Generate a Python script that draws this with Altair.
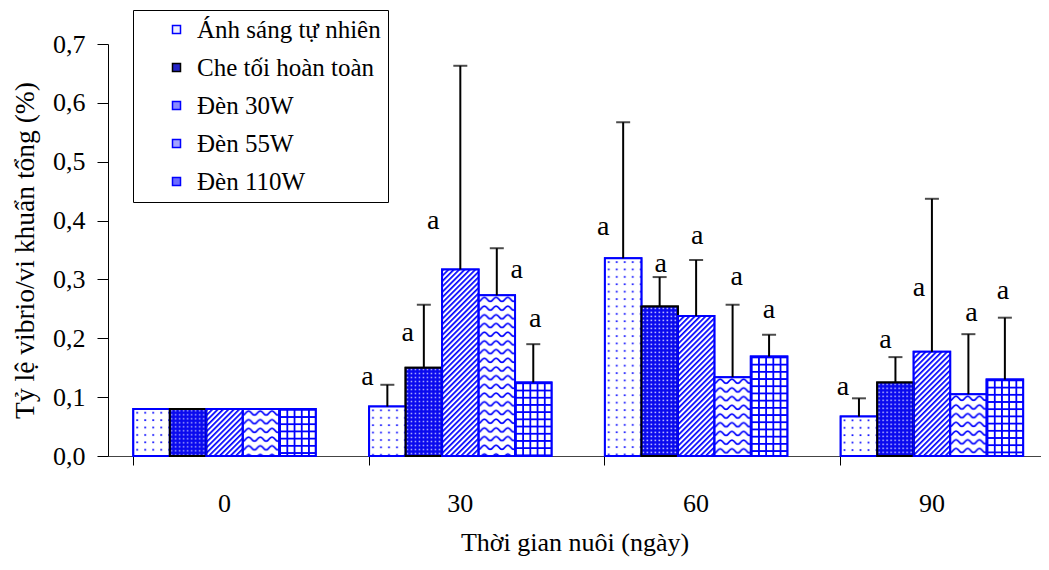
import base64
import altair as alt
import pandas as pd

# ---------------- data ----------------
groups = ["0", "30", "60", "90"]
series = ["Ánh sáng tự nhiên", "Che tối hoàn toàn", "Đèn 30W", "Đèn 55W", "Đèn 110W"]

# mean ratio (%) by culture day 0, 30, 60, 90
anh_sang = [0.080, 0.084, 0.336, 0.067]
che_toi = [0.080, 0.150, 0.254, 0.125]
den_30w = [0.080, 0.317, 0.238, 0.177]
den_55w = [0.080, 0.273, 0.134, 0.105]
den_110w = [0.080, 0.125, 0.169, 0.130]

# upper error bars (SD); none on day 0
sd_anh_sang = [None, 0.037, 0.231, 0.031]
sd_che_toi = [None, 0.107, 0.050, 0.043]
sd_30w = [None, 0.346, 0.095, 0.260]
sd_55w = [None, 0.080, 0.123, 0.102]
sd_110w = [None, 0.065, 0.037, 0.105]

# significance letters: text and height (in axis units)
letters = [None, "a", "a", "a"]
lab_anh_sang = [None, 0.121, 0.375, 0.104]
lab_che_toi = [None, 0.196, 0.313, 0.183]
lab_30w = [None, 0.386, 0.361, 0.272]
lab_55w = [None, 0.302, 0.291, 0.230]
lab_110w = [None, 0.219, 0.234, 0.266]

y_ticks = [0.0, 0.1, 0.2, 0.3, 0.4, 0.5, 0.6, 0.7]

# ---------------- styles ----------------
BLUE = "#0000ff"
FONT = "Liberation Serif"
Y_TITLE = "Tỷ lệ vibrio/vi khuẩn tổng (%)"
X_TITLE = "Thời gian nuôi (ngày)"

# letter nudges (px), left/right of bar centre
nudge_anh_sang = [0, -20, -20, -16]
nudge_che_toi = [0, -16, 1, -10]
nudge_30w = [0, -27, 1, -13]
nudge_55w = [0, 20, 4, 3]
nudge_110w = [0, 2, 0, -2]


def svg_pattern(w, h, content, bg, transform=""):
    tr = f' patternTransform="{transform}"' if transform else ""
    svg = (
        '<svg xmlns="http://www.w3.org/2000/svg">'
        f'<defs><pattern id="p" patternUnits="userSpaceOnUse" width="{w}" height="{h}"{tr}>'
        f"{content}</pattern></defs>"
        f'<rect width="100%" height="100%" fill="{bg}"/>'
        '<rect width="100%" height="100%" fill="url(#p)"/></svg>'
    )
    return "data:image/svg+xml;base64," + base64.b64encode(svg.encode("utf-8")).decode("ascii")


patterns = {
    series[0]: svg_pattern(8, 7.4, f'<rect x="3" y="3" width="1.7" height="1.7" fill="{BLUE}"/>', "white"),
    series[1]: svg_pattern(4, 4, '<rect x="1.2" y="1.2" width="1.4" height="1.4" fill="#c8c8ff"/>', "#0a0aee"),
    series[2]: svg_pattern(3.8, 3.8, f'<rect x="0" y="0" width="1.7" height="3.8" fill="{BLUE}"/>', "white", "rotate(45)"),
    series[3]: svg_pattern(11.7, 8.7,
                           f'<path d="M0,6.2 C2.9,6.2 2.9,2 5.85,2 C8.8,2 8.8,6.2 11.7,6.2" stroke="{BLUE}" stroke-width="1.7" fill="none"/>',
                           "white"),
    series[4]: svg_pattern(7.2, 7.2,
                           f'<rect x="0" y="0" width="7.2" height="1.8" fill="{BLUE}"/><rect x="0" y="0" width="1.8" height="7.2" fill="{BLUE}"/>',
                           "white"),
}
legend_fills = ["#eeeeff", "#2424c8", "#8a8aff", "#a4a4ff", "#6c6cff"]
strokes = [BLUE, "black", BLUE, BLUE, BLUE]

# ---------------- table ----------------
rows = []
for s, vals, sds, labs, nuds in zip(
    series,
    [anh_sang, che_toi, den_30w, den_55w, den_110w],
    [sd_anh_sang, sd_che_toi, sd_30w, sd_55w, sd_110w],
    [lab_anh_sang, lab_che_toi, lab_30w, lab_55w, lab_110w],
    [nudge_anh_sang, nudge_che_toi, nudge_30w, nudge_55w, nudge_110w],
):
    for g, v, sd, ly, nd, lt in zip(groups, vals, sds, labs, nuds, letters):
        rows.append(
            dict(group=g, series=s, value=v,
                 top=(v + sd) if sd is not None else None,
                 label_y=ly, letter=lt, nudge=nd, pattern=patterns[s])
        )
df = pd.DataFrame(rows)
df_err = df[df["top"].notna()]
df_lab = df[df["letter"].notna()]

# ---------------- encodings ----------------
x_scale = alt.Scale(paddingInner=0.2265, paddingOuter=0.0916, align=0.586)
y_scale = alt.Scale(domain=[0, 0.7], nice=False)
y_axis = alt.Axis(
    values=y_ticks,
    labelExpr="replace(format(datum.value, '.1f'), '.', ',')",
    tickSize=11, labelPadding=12, titlePadding=13, titleFontSize=27.5,
    domainColor="black",
)
label_axis = alt.Axis(
    ticks=False, tickSize=0, labelPadding=34, titlePadding=13, labelAngle=0,
    domainColor="#444444", orient="bottom",
)
tick_axis = alt.Axis(
    bandPosition=0, labels=False, domain=False, ticks=True, tickSize=9,
    title=None, orient="bottom", tickColor="black",
)
legend = alt.Legend(
    title=None, orient="none", legendX=25, legendY=-34,
    symbolType="square", symbolSize=64, symbolStrokeWidth=1.5,
    symbolOffset=24, labelOffset=8, labelFont=FONT, labelFontSize=25,
    labelColor="black", labelLimit=400, rowPadding=12, padding=7,
    strokeColor="black", fillColor="white",
)


def xe(axis):
    return alt.X("group:N", sort=groups, scale=x_scale, axis=axis, title=X_TITLE)


def ye(field):
    return alt.Y(f"{field}:Q", scale=y_scale, axis=y_axis, title=Y_TITLE)


xo = alt.XOffset("series:N", sort=series)
fill_enc = alt.Fill("series:N", sort=series, scale=alt.Scale(domain=series, range=legend_fills), legend=legend)
stroke_enc = alt.Stroke("series:N", sort=series, scale=alt.Scale(domain=series, range=strokes), legend=legend)

base = alt.Chart(df)

bars = base.mark_bar(strokeWidth=2).encode(
    x=xe(label_axis), xOffset=xo, y=ye("value"), fill=fill_enc, stroke=stroke_enc
)
textures = base.mark_image(aspect=False).encode(
    x=xe(None), xOffset=xo, y=ye("value"), y2=alt.datum(0), url="pattern:N"
)
outlines = base.mark_bar(strokeWidth=2, fillOpacity=0).encode(
    x=xe(None), xOffset=xo, y=ye("value"), stroke=stroke_enc
)
err_lines = alt.Chart(df_err).mark_rule(strokeWidth=2, color="black").encode(
    x=xe(tick_axis), xOffset=xo, y=ye("value"), y2="top:Q"
)
err_caps = alt.Chart(df_err).mark_tick(size=14, thickness=2, color="black").encode(
    x=xe(None), xOffset=xo, y=ye("top")
)

letter_layers = []
for nd in sorted(df_lab["nudge"].unique()):
    letter_layers.append(
        alt.Chart(df_lab[df_lab["nudge"] == nd]).mark_text(
            dx=float(nd), baseline="alphabetic", align="center",
            font=FONT, fontSize=28, color="black",
        ).encode(x=xe(None), xOffset=xo, y=ye("label_y"), text="letter:N")
    )

chart = (
    alt.layer(bars, textures, outlines, err_lines, err_caps, *letter_layers)
    .resolve_axis(x="independent")
    .properties(
        width=933, height=412,
        autosize=alt.AutoSizeParams(type="none"),
        padding={"left": 100, "top": 36, "right": 0, "bottom": 102},
    )
    .configure_axis(
        labelFont=FONT, titleFont=FONT, labelFontSize=26, titleFontSize=26,
        titleFontWeight="normal", labelColor="black", titleColor="black",
        tickColor="black", grid=False,
    )
    .configure_view(stroke=None)
)

chart.save("out.html", embed_options={"renderer": "svg", "actions": False})
